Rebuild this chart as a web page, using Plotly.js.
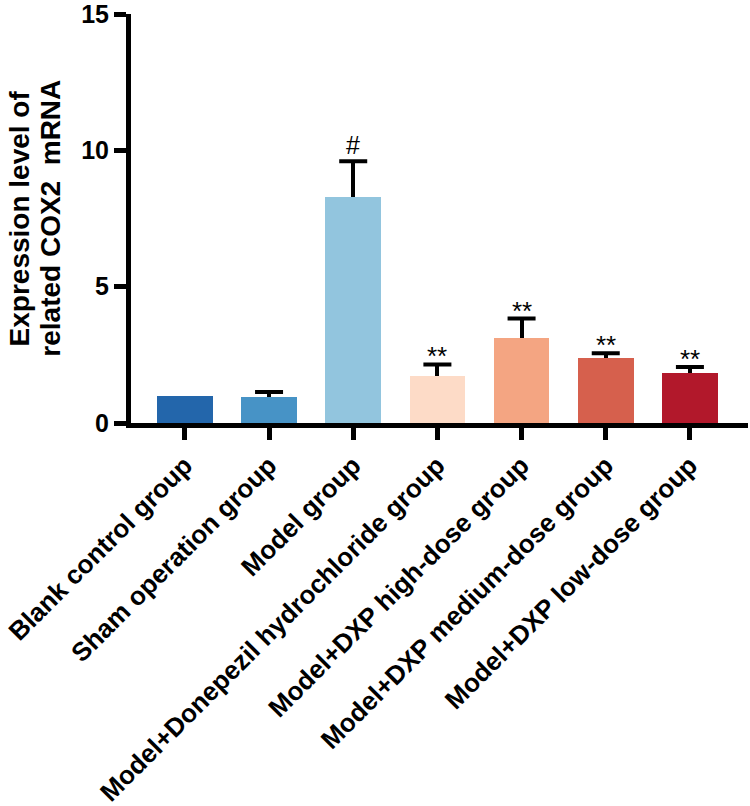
<!DOCTYPE html>
<html>
<head>
<meta charset="utf-8">
<script src="https://cdn.plot.ly/plotly-3.0.1.min.js"></script>
<style>html,body{margin:0;padding:0;background:#fff;}</style>
</head>
<body>
<div id="chart" style="width:750px;height:806px;"></div>
<script>
var categories = [
  "Blank control group",
  "Sham operation group",
  "Model group",
  "Model+Donepezil hydrochloride group",
  "Model+DXP high-dose group",
  "Model+DXP medium-dose group",
  "Model+DXP low-dose group"
];
var means = [1.0, 0.97, 8.3, 1.72, 3.13, 2.38, 1.83];
var errors = [0, 0.17, 1.3, 0.43, 0.7, 0.18, 0.22];
var marks = ["", "", "#", "**", "**", "**", "**"];
var barColors = ["#2366ab", "#4793c6", "#92c5de", "#fddbc7", "#f4a582", "#d6604d", "#b2182b"];
var yTicks = [0, 5, 10, 15];

var FONT = "Arial, 'Liberation Sans', sans-serif";
var idx = categories.map(function(_, i){ return i; });

// bars with upward error stems (no caps)
var barTrace = {
  type: "bar",
  x: idx,
  y: means,
  width: 0.66,
  marker: {color: barColors, line: {width: 0}},
  error_y: {
    type: "data",
    symmetric: false,
    array: errors,
    arrayminus: errors.map(function(){ return 0; }),
    color: "#000",
    thickness: 4,
    width: 0,
    visible: true
  },
  hoverinfo: "none"
};

// caps of the error bars, at mean + error
var capTrace = {
  type: "scatter",
  mode: "markers",
  x: idx,
  y: means.map(function(m, i){ return errors[i] > 0 ? m + errors[i] : null; }),
  marker: {size: 1, opacity: 0},
  error_y: {
    type: "constant", value: 0,
    color: "#000", thickness: 4, width: 14, visible: true
  },
  hoverinfo: "none"
};

var annotations = [];
marks.forEach(function(m, i){
  if (!m) return;
  annotations.push({
    x: i, y: means[i] + errors[i], xref: "x", yref: "y",
    text: m, showarrow: false, yanchor: "bottom", yshift: m === "#" ? 0 : -9,
    font: {family: FONT, size: m === "#" ? 25 : 26, color: "#000"}
  });
});
annotations.push({
  xref: "paper", yref: "paper", x: -0.18, y: 0.5,
  text: "<b>Expression level of</b>", showarrow: false, textangle: -90,
  xanchor: "center", yanchor: "middle",
  font: {family: FONT, size: 28, color: "#000"}
});
annotations.push({
  xref: "paper", yref: "paper", x: -0.131, y: 0.5,
  text: "<b>related COX2\u00a0 mRNA</b>", showarrow: false, textangle: -90,
  xanchor: "center", yanchor: "middle",
  font: {family: FONT, size: 28, color: "#000"}
});

var layout = {
  width: 750, height: 806,
  margin: {l: 131, r: 2, t: 14, b: 383},
  paper_bgcolor: "#fff", plot_bgcolor: "#fff",
  showlegend: false,
  bargap: 0,
  xaxis: {
    range: [-0.64, 6.69],
    tickvals: idx,
    ticktext: categories.map(function(c){ return "<b>" + c + "</b>"; }),
    tickangle: -45,
    ticks: "outside", ticklen: 12, tickwidth: 5, tickcolor: "#000",
    showline: true, linewidth: 5, linecolor: "#000",
    showgrid: false, zeroline: false,
    tickfont: {family: FONT, size: 26, color: "#000"},
    ticklabeloverflow: "allow",
    fixedrange: true
  },
  yaxis: {
    range: [0, 15],
    tickvals: yTicks,
    ticktext: yTicks.map(function(v){ return "<b>" + v + "</b>"; }),
    ticks: "outside", ticklen: 12, tickwidth: 5, tickcolor: "#000",
    showline: true, linewidth: 5, linecolor: "#000",
    showgrid: false, zeroline: false,
    tickfont: {family: FONT, size: 25, color: "#000"},
    ticklabeloverflow: "allow",
    fixedrange: true
  },
  annotations: annotations
};

Plotly.newPlot("chart", [barTrace, capTrace], layout, {displayModeBar: false, staticPlot: true});
</script>
</body>
</html>
